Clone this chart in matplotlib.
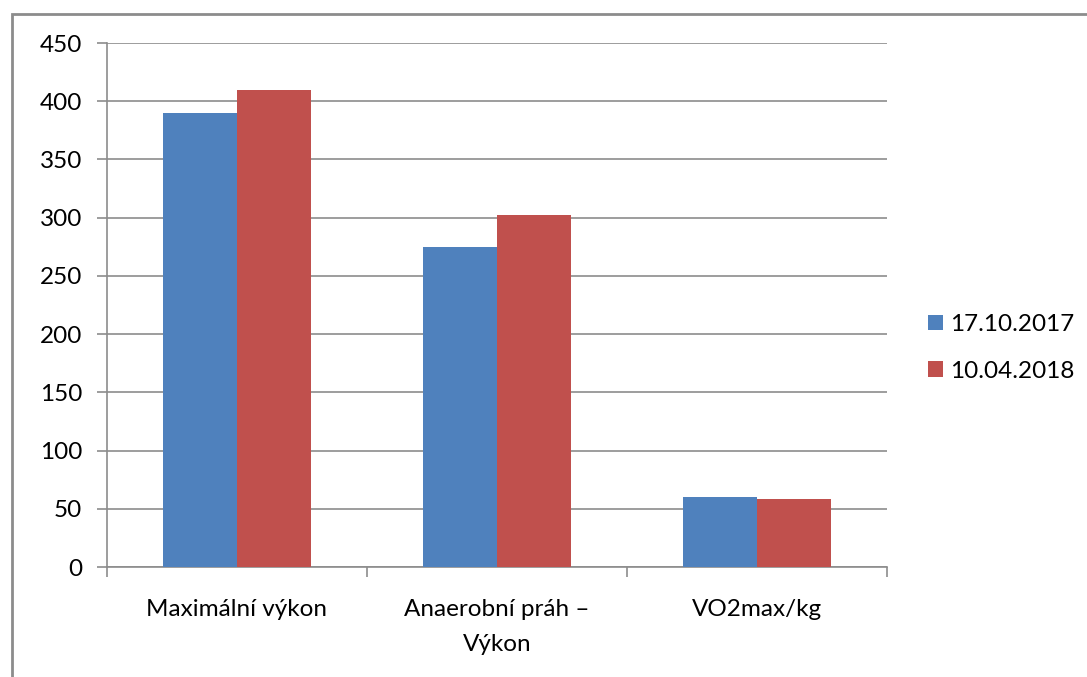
import numpy as np
import matplotlib.pyplot as plt
import matplotlib.patches as patches

categories = ['Maximální výkon', 'Anaerobní práh –\nVýkon', 'VO2max/kg']
series_names = ['17.10.2017', '10.04.2018']
values_2017 = [390, 275, 60]
values_2018 = [410, 302, 58]
colors = ['#4F81BD', '#C0504D']

plt.rcParams['font.family'] = ['Lato', 'DejaVu Sans']

W, H = 1087, 677
fig = plt.figure(figsize=(W / 100, H / 100), dpi=100)

# outer chart frame (only left and top edges fall inside the image)
frame = patches.Rectangle((12 / W, -0.1), 1.2, (H - 14) / H + 0.1,
                          transform=fig.transFigure, fill=False,
                          edgecolor='#8C8C8C', linewidth=2)
fig.patches.append(frame)

ax = fig.add_axes([107 / W, 1 - 567 / H, 780 / W, 524 / H])

x = np.arange(len(categories))
bw = 0.285
ax.bar(x - bw / 2, values_2017, bw, color=colors[0], label=series_names[0], zorder=3)
ax.bar(x + bw / 2, values_2018, bw, color=colors[1], label=series_names[1], zorder=3)

ax.set_xlim(-0.5, len(categories) - 0.5)
ax.set_ylim(0, 450)
ax.set_yticks(np.arange(0, 451, 50))
ax.yaxis.grid(True, color='#8C8C8C', linewidth=1.2, zorder=0)

# category labels with tick marks on the boundaries
ax.set_xticks(x)
ax.set_xticklabels(categories, fontsize=17.5, linespacing=1.8)
ax.tick_params(axis='x', length=0, pad=23)
ax.set_xticks(np.arange(-0.5, len(categories)), minor=True)
ax.tick_params(axis='x', which='minor', length=7, width=1.2, color='#8C8C8C')
ax.tick_params(axis='y', length=7, width=1.2, color='#8C8C8C', labelsize=17.5, pad=11)

for side in ['top', 'right']:
    ax.spines[side].set_visible(False)
for side in ['left', 'bottom']:
    ax.spines[side].set_color('#8C8C8C')
    ax.spines[side].set_linewidth(1.2)

ax.legend(loc='center left', bbox_to_anchor=(1.04, 0.418), frameon=False,
          fontsize=17.5, handlelength=0.6, handleheight=0.6,
          handletextpad=0.3, labelspacing=1.05, borderaxespad=0)

fig.savefig('out.png', dpi=100)
